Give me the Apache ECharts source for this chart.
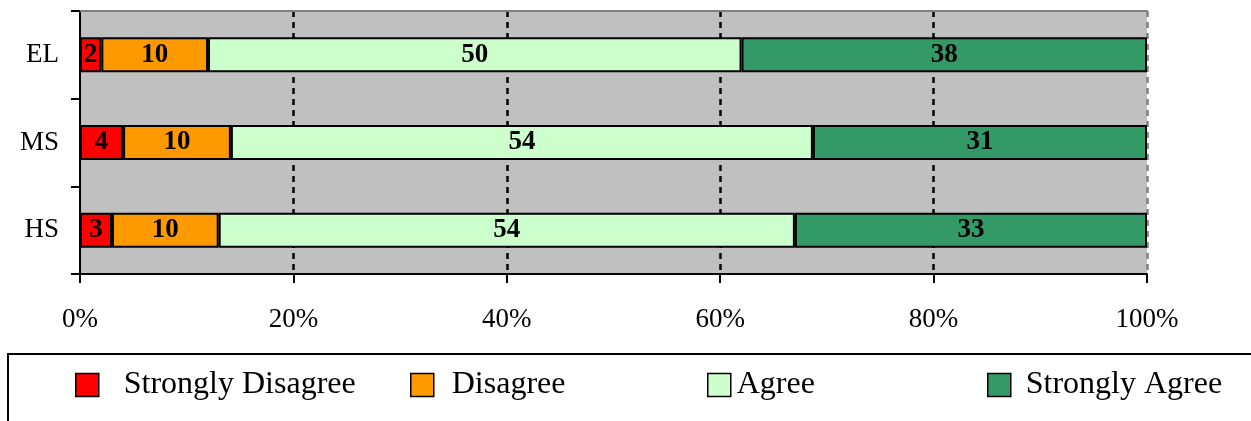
<!DOCTYPE html>
<html>
<head>
<meta charset="utf-8">
<script src="https://cdn.jsdelivr.net/npm/echarts@6/dist/echarts.min.js"></script>
<style>
html,body{margin:0;padding:0;background:#fff;}
#c{width:1251px;height:421px;}
</style>
</head>
<body>
<div id="c"></div>
<script>
const categories = ['EL', 'MS', 'HS'];
const seriesNames = ['Strongly Disagree', 'Disagree', 'Agree', 'Strongly Agree'];
const stronglyDisagree = [2, 4, 3];
const disagree = [10, 10, 10];
const agree = [50, 54, 54];
const stronglyAgree = [38, 31, 33];
const xTicks = [0, 20, 40, 60, 80, 100];

const raw = [stronglyDisagree, disagree, agree, stronglyAgree];
const colors = ['#FF0000', '#FF9900', '#CCFFCC', '#339966'];
const totals = categories.map((c, i) => raw.reduce((s, arr) => s + arr[i], 0));
const FONT = '"Liberation Serif", "Times New Roman", serif';

const series = raw.map((arr, si) => ({
  name: seriesNames[si],
  type: 'bar',
  stack: 'total',
  barWidth: 35,
  data: arr.map((v, i) => v / totals[i] * 100),
  itemStyle: { color: colors[si], borderColor: '#000', borderWidth: 2 },
  label: {
    show: true,
    position: 'inside',
    color: '#000',
    fontFamily: FONT,
    fontWeight: 'bold',
    fontSize: 27,
    formatter: p => String(raw[si][p.dataIndex])
  },
  emphasis: { disabled: true }
}));

const legendPos = [
  { left: 75, pad: 20 },
  { left: 410, pad: 13 },
  { left: 707, pad: 1 },
  { left: 987, pad: 10 }
];
const legends = seriesNames.map((n, i) => ({
  data: [n],
  left: legendPos[i].left,
  top: 368,
  padding: 0,
  itemWidth: 23,
  itemHeight: 23,
  icon: 'rect',
  selectedMode: false,
  itemStyle: { borderColor: '#000', borderWidth: 1.5 },
  textStyle: {
    fontFamily: FONT,
    fontSize: 32,
    color: '#000',
    lineHeight: 34,
    padding: [0, 0, 0, legendPos[i].pad]
  }
}));

const chart = echarts.init(document.getElementById('c'));
chart.setOption({
  animation: false,
  backgroundColor: '#fff',
  grid: {
    left: 80, right: 104, top: 11, bottom: 147,
    show: true, backgroundColor: '#C0C0C0', borderWidth: 0
  },
  xAxis: [{
    type: 'value',
    min: xTicks[0], max: xTicks[xTicks.length - 1], interval: 20,
    axisLine: { show: true, lineStyle: { color: '#000', width: 2 } },
    axisTick: { show: true, length: 9, lineStyle: { color: '#000', width: 2 } },
    axisLabel: {
      formatter: '{value}%', margin: 32,
      fontFamily: FONT, fontSize: 27, color: '#000'
    },
    splitLine: {
      show: true,
      showMinLine: false,
      lineStyle: {
        color: ['#000', '#000', '#000', '#000', '#808080'],
        width: 2.5, type: [6, 5]
      }
    }
  }, {
    type: 'value', position: 'top',
    min: 0, max: 100,
    axisLine: { show: true, lineStyle: { color: '#808080', width: 2 } },
    axisTick: { show: false }, axisLabel: { show: false }, splitLine: { show: false }
  }],
  yAxis: {
    type: 'category',
    data: categories,
    inverse: true,
    axisLine: { show: true, lineStyle: { color: '#000', width: 2 } },
    axisTick: { show: true, length: 9, lineStyle: { color: '#000', width: 2 } },
    axisLabel: { margin: 21, fontFamily: FONT, fontSize: 27, color: '#000' }
  },
  legend: legends,
  graphic: [{
    type: 'rect',
    shape: { x: 8, y: 354, width: 1260, height: 80 },
    style: { fill: 'transparent', stroke: '#000', lineWidth: 2 },
    silent: true
  }],
  series: series
});
</script>
</body>
</html>
